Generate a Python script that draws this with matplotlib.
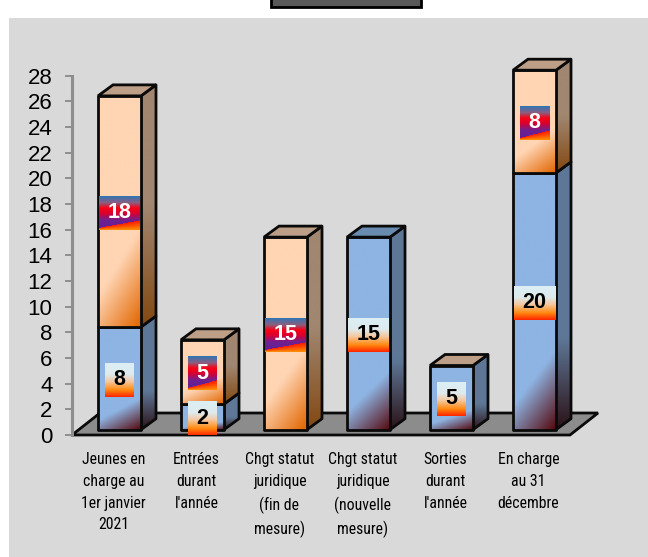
import numpy as np
import matplotlib
matplotlib.use("Agg")
import matplotlib.pyplot as plt
from matplotlib.patches import Polygon, Rectangle
from matplotlib.colors import to_rgb
from matplotlib import font_manager as fm

categories = ["Jeunes en\ncharge au\n1er janvier\n2021", "Entrées\ndurant\nl'année",
              "Chgt statut\njuridique\n(fin de\nmesure)", "Chgt statut\njuridique\n(nouvelle\nmesure)",
              "Sorties\ndurant\nl'année", "En charge\nau 31\ndécembre"]
blue_values = [8, 2, 0, 15, 5, 20]
orange_values = [18, 5, 15, 0, 0, 8]
y_ticks = list(range(0, 29, 2))

W, H = 648, 557
fig = plt.figure(figsize=(W / 100, H / 100), dpi=100, facecolor="white")
ax = fig.add_axes([72 / W, (H - 435) / H, 498 / W, 359.5 / H])
ax.set_xlim(-0.5, 5.5)
ax.set_ylim(0, 28)
ax.patch.set_alpha(0)
PX = 6 / 498      # data x per px
PY = 28 / 359.5   # data y per px
BW = 43 * PX
DX, DY = 15 * PX, 11 * PY
OX, OY = 6 * PX, 5.3 * PY
fig.patches.append(Rectangle((9 / W, 0), (W - 9) / W, (H - 18) / H, transform=fig.transFigure,
                             facecolor="#D9D9D9", edgecolor="none", zorder=-5))
fig.patches.append(Rectangle((270.5 / W, (H - 7) / H), 150 / W, 12 / H, transform=fig.transFigure,
                             facecolor="#595959", edgecolor="black", lw=2, clip_on=False))

names = {f.name for f in fm.fontManager.ttflist}
narrow = next((n for n in ["Liberation Sans Narrow", "Roboto Condensed", "Open Sans Condensed",
                           "Noto Sans Condensed", "Roboto"] if n in names), "Liberation Sans")


def ramp(shape, c0, c1, start, stop, skew):
    h, w = shape
    v, u = np.mgrid[0:1:h * 1j, 0:1:w * 1j]
    s = np.clip((v + skew * (u - 0.5) - start) / (stop - start), 0, 1)[..., None]
    return np.array(to_rgb(c0)) * (1 - s) + np.array(to_rgb(c1)) * s


def fill(poly, img, z):
    pts = np.array(poly)
    im = ax.imshow(img, extent=(pts[:, 0].min(), pts[:, 0].max(), pts[:, 1].min(), pts[:, 1].max()),
                   origin="upper", aspect="auto", zorder=z, interpolation="bilinear")
    im.set_clip_box(fig.bbox)
    im.set_clip_path(Polygon(poly, transform=ax.transData))
    ax.add_patch(Polygon(poly, closed=True, fill=False, edgecolor="#0A0A0A", lw=2.0, zorder=z + 0.1,
                         joinstyle="round", clip_on=False))


STY = {"orange": dict(front=("#FFD5B4", "#E36C0A"), side=("#A18670", "#7F4208"), top="#BD9F87",
                      start=.72, stop=1.12, skew=.3, sstart=.5, sstop=1.05),
       "blue": dict(front=("#8EB4E3", "#560D12"), side=("#5E7797", "#240405"), top="#6A8BB0",
                    start=.8, stop=1.1, skew=.22, sstart=.66, sstop=1.05)}


def segment(x, y0, y1, kind, z):
    s = STY[kind]
    l, r = x - BW / 2 + OX, x + BW / 2 + OX
    b, t = y0 + OY, y1 + OY
    side = [(r, b), (r + DX, b + DY), (r + DX, t + DY), (r, t)]
    fill(side, ramp((64, 8), *s["side"], s["sstart"], s["sstop"], 0), z)
    fill([(l, b), (r, b), (r, t), (l, t)], ramp((128, 64), *s["front"], s["start"], s["stop"], s["skew"]), z + 1)


BLUE_STOPS = [(0, "#DCEFF5"), (.33, "#DEEBEF"), (.55, "#F5C8A0"), (.8, "#FF8A10"), (1, "#FF2A00")]
RED_STOPS = [(0, "#2E75B6"), (.2, "#8A6080"), (.36, "#FA0014"), (.52, "#D80030"), (.72, "#702090"), (1, "#5E2098")]


def stops_img(stops, h, w):
    ys = np.linspace(0, 1, h)
    xs = [q[0] for q in stops]
    cs = np.array([to_rgb(q[1]) for q in stops])
    col = np.stack([np.interp(ys, xs, cs[:, i]) for i in range(3)], axis=1)
    return np.repeat(col[:, None, :], w, axis=1)


def label(x, yc, val, kind):
    w = 41 if val >= 10 else 29
    h = 34
    cx = x + OX
    cy = yc + OY - 1.2 * PY
    img = stops_img(BLUE_STOPS if kind == "blue" else RED_STOPS, h * 2, w * 2)
    if kind == "orange":
        vv, uu = np.mgrid[0:1:h * 2j, 0:1:w * 2j]
        edge = .95 - .22 * uu
        mask = vv > edge
        frac = np.clip((vv - edge) / np.maximum(1 - edge, 1e-3), 0, 1)[..., None]
        grad = np.array(to_rgb("#FF1A00")) * (1 - frac) + np.array(to_rgb("#FF8A00")) * frac
        img = np.where(mask[..., None], grad, img)
    ax.imshow(img, extent=(cx - w / 2 * PX, cx + w / 2 * PX, cy - h / 2 * PY, cy + h / 2 * PY),
              origin="upper", aspect="auto", zorder=30, interpolation="nearest")
    ax.text(cx, cy, str(val), ha="center", va="center", fontsize=15.5, fontweight="bold",
            family="Liberation Sans", color="white" if kind == "orange" else "black", zorder=31)


# floor
ax.add_patch(Polygon([(-0.5, 0), (5.5, 0), (5.5 + 28 * PX, 22 * PY), (-0.5 + 28 * PX, 22 * PY)], closed=True,
                     facecolor="#8C8C8C", edgecolor="#0A0A0A", lw=2.0, zorder=1, clip_on=False))

for i, (bv, ov) in enumerate(zip(blue_values, orange_values)):
    z = 3 + i * 3
    if bv:
        segment(i, 0, bv, "blue", z)
    if ov:
        segment(i, bv, bv + ov, "orange", z + .3)
    total = bv + ov
    l, r = i - BW / 2 + OX, i + BW / 2 + OX
    tk = "orange" if ov or i == 4 else "blue"
    ax.add_patch(Polygon([(l, total + OY), (r, total + OY), (r + DX, total + OY + DY), (l + DX, total + OY + DY)],
                         closed=True, facecolor=STY[tk]["top"], edgecolor="#0A0A0A", lw=2.0, zorder=z + 2,
                         clip_on=False))

for i, (bv, ov) in enumerate(zip(blue_values, orange_values)):
    if bv:
        label(i, bv / 2, bv, "blue")
    if ov:
        label(i, bv + ov / 2, ov, "orange")

ax.set_xlim(-0.5, 5.5)
ax.set_ylim(0, 28)
for s in ("top", "right", "bottom"):
    ax.spines[s].set_visible(False)
ax.spines["left"].set_color("#8E8E8E")
ax.spines["left"].set_linewidth(2.2)
ax.set_yticks(y_ticks)
ax.set_yticklabels([str(v) for v in y_ticks], fontsize=16, family="Liberation Sans", color="black")
ax.tick_params(axis="y", length=5, width=1.4, color="#8E8E8E", pad=9)
ax.set_xticks(range(len(categories)))
ax.set_xticklabels(categories, fontsize=11.3, linespacing=1.55, family=[narrow, "Liberation Sans"], color="black")
ax.tick_params(axis="x", length=0, pad=12.5)

fig.savefig("out.png", dpi=100)
